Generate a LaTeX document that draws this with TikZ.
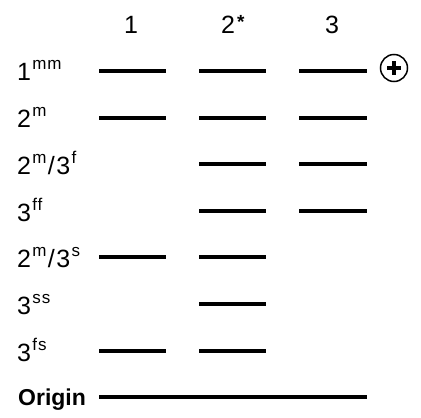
\documentclass[tikz,border=0pt]{standalone}
\usepackage{fontspec}
\setmainfont{Liberation Sans}
\newcommand\sps[1]{\kern1.2pt\raisebox{10.5pt}{\fontsize{17}{18}\selectfont\addfontfeature{LetterSpace=6}#1}}
\newcommand\slsh{\kern1.5pt/\kern1.5pt}
\newcommand\myast{\kern2pt\raisebox{5pt}{\fontsize{19}{19}\selectfont\bfseries *}}
\begin{document}
\begin{tikzpicture}[x=1pt,y=-1pt,
  lbl/.style={anchor=base west,inner sep=0pt,font=\fontsize{25}{27}\selectfont},
  hdr/.style={anchor=base,inner sep=0pt,font=\fontsize{25}{27}\selectfont},
  level/.style={line width=3.2pt}]
\useasboundingbox (0,0) rectangle (421,418);
% headers
\node[hdr] (h1) at (131,33) {1};
\node[hdr,anchor=base west] (h2) at (221,33) {2\myast};
\node[hdr] (h3) at (332,33) {3};
% row labels
\node[lbl] (r1) at (17,80) {1\sps{mm}};
\node[lbl] (r2) at (17,127) {2\sps{m}};
\node[lbl] (r3) at (17,174) {2\sps{m}\slsh3\sps{f}};
\node[lbl] (r4) at (17,221) {3\sps{ff}};
\node[lbl] (r5) at (17,267) {2\sps{m}\slsh3\sps{s}};
\node[lbl] (r6) at (17,314) {3\sps{ss}};
\node[lbl] (r7) at (17,361) {3\sps{fs}};
\node[lbl,font=\fontsize{23}{25}\selectfont\bfseries] (r8) at (18,405) {Origin};
% levels
\foreach \y/\a/\b/\c in {71/1/1/1,118/1/1/1,164/0/1/1,211/0/1/1,257/1/1/0,304/0/1/0,351/1/1/0}{
  \ifnum\a=1 \draw[level] (99,\y) -- (166,\y);\fi
  \ifnum\b=1 \draw[level] (199,\y) -- (266,\y);\fi
  \ifnum\c=1 \draw[level] (299,\y) -- (367,\y);\fi
}
\draw[level] (99,397) -- (367,397);
% plus sign
\node[draw,circle,line width=1.5pt,minimum size=27pt,inner sep=0pt] (plus) at (394,68) {};
\draw[line width=3.2pt] (plus.center) ++(-7,0) -- ++(14,0) (plus.center) ++(0,-7) -- ++(0,14);
\end{tikzpicture}
\end{document}
